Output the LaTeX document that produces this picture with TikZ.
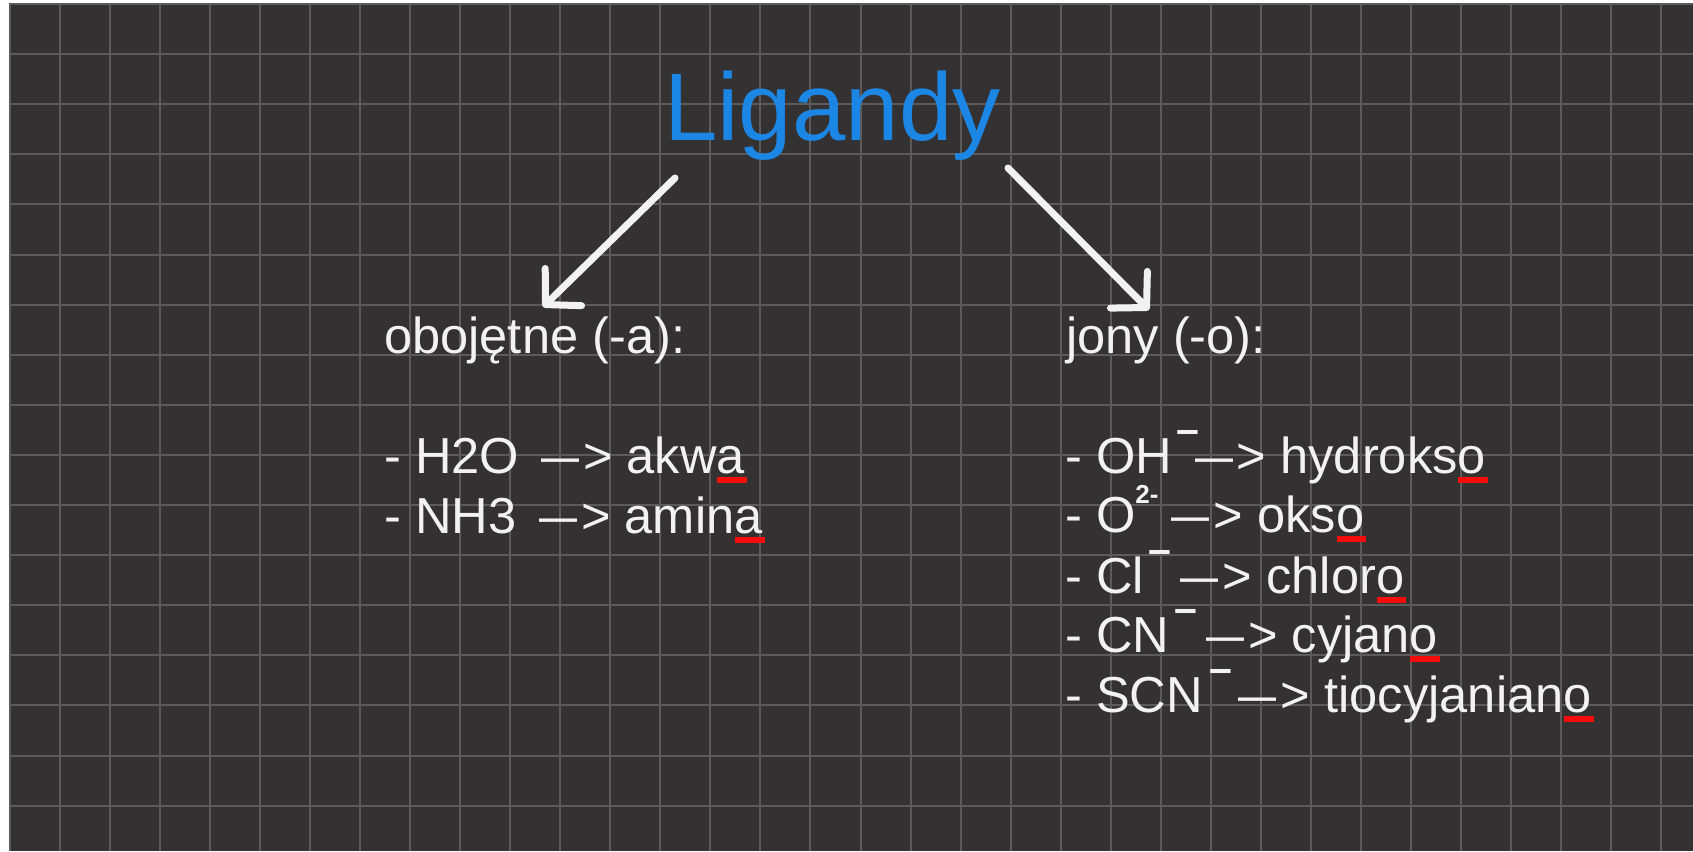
\documentclass[tikz,border=0pt]{standalone}
\usepackage{fontspec}
\setmainfont{Liberation Sans}
\usepackage{graphicx}
\usetikzlibrary{arrows.meta}

\definecolor{board}{RGB}{51,49,50}
\definecolor{gridline}{RGB}{92,90,91}
\definecolor{titleblue}{RGB}{28,134,228}
\definecolor{chalk}{RGB}{242,242,242}
\definecolor{mark}{RGB}{245,12,12}

% long arrow "—>" between a ligand and its name
\newcommand\yld{\scalebox{0.75}[1]{—}\kern4pt>}
% red bar under the characteristic ending of a name
\newcommand\suffixmark[1]{\setbox0\hbox{#1}\rlap{\kern0.5pt\textcolor{mark}{\rule[-10pt]{\dimexpr\wd0+1.5pt\relax}{6pt}}}#1}
% charge written above the formula
\newcommand\chg[2][5pt]{\rlap{\kern#1\raisebox{30pt}{\fontsize{41pt}{41pt}\selectfont\bfseries #2}}}
\newcommand\chgtwo[2][0pt]{\rlap{\kern#1\raisebox{29pt}{\fontsize{26pt}{26pt}\selectfont\bfseries #2}}}

\tikzset{
  txt/.style={anchor=base west, inner sep=0pt, text=chalk,
    font=\fontsize{50.6pt}{60pt}\selectfont},
  title/.style={anchor=base west, inner sep=0pt, text=titleblue,
    font=\fontsize{96pt}{110pt}\selectfont},
  branch/.style={draw=chalk, line width=7pt, line cap=round,
    -{Straight Barb[length=25pt,width=52pt,round]}},
}

\begin{document}
\begin{tikzpicture}[x=1pt,y=-1pt]
  \useasboundingbox (0,0) rectangle (1693,851);
  % board and squared grid
  \fill[white] (0,0) rectangle (1693,851);
  \fill[board] (9,5) rectangle (1693,851);
  \foreach \i in {0,...,33}
    \draw[gridline, line width=2pt] ({10+50.03*\i},5) -- ({10+50.03*\i},851);
  \foreach \j in {0,...,16}
    \draw[gridline, line width=2pt] (9,{4+50.1*\j}) -- (1693,{4+50.1*\j});

  % title
  \node[title] (ligandy) at (664,140) {Ligandy};

  % column headers
  \node[txt] (neutral) at (384,353) {obojętne (-a):};
  \node[txt] (ions) at (1066,353) {jony (-o):};

  % neutral ligands
  \node[txt] (h2o) at (384,473) {- H2O\hspace{22pt}\yld{} akw\suffixmark{a}};
  \node[txt] (nh3) at (384,533) {- NH3\hspace{23pt}\yld{} amin\suffixmark{a}};

  % anionic ligands
  \node[txt] (oh)  at (1065,473) {- OH\chg[4.5pt]{–}\hspace{23pt}\yld{} hydroks\suffixmark{o}};
  \node[txt] (oxo) at (1065,532) {- O\chgtwo{2-}\hspace{36.5pt}\yld{} oks\suffixmark{o}};
  \node[txt] (cl)  at (1065,593) {- Cl\chg[5pt]{–}\hspace{37pt}\yld{} chlor\suffixmark{o}};
  \node[txt] (cn)  at (1065,652) {- CN\chg[5pt]{–}\hspace{37pt}\yld{} cyjan\suffixmark{o}};
  \node[txt] (scn) at (1065,712) {- SCN\chg[7pt]{–}\hspace{36pt}\yld{} tiocyjanian\suffixmark{o}};

  % branches from the title to both groups
  \coordinate (left-from) at (675,178);
  \coordinate (left-to) at (543,307);
  \coordinate (right-from) at (1008,168);
  \coordinate (right-to) at (1149,310);
  \draw[branch] (left-from) -- (left-to);
  \draw[branch] (right-from) -- (right-to);
\end{tikzpicture}
\end{document}
